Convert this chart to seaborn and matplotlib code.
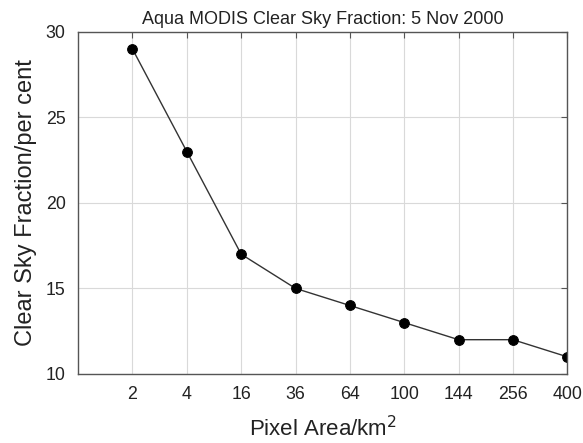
import numpy as np
import matplotlib
matplotlib.use("Agg")
import matplotlib.pyplot as plt
import seaborn as sns

# pixel areas (km^2), plotted as equally spaced categories
pixel_area = ["2", "4", "16", "36", "64", "100", "144", "256", "400"]
clear_sky = [29, 23, 17, 15, 14, 13, 12, 12, 11]

sns.set_style("white")
plt.rcParams["font.family"] = ["Liberation Sans", "DejaVu Sans"]

fig = plt.figure(figsize=(5.83, 4.43), dpi=100)
ax = fig.add_axes([0.134, 0.156, 0.839, 0.772])

pos = np.arange(len(pixel_area))
sns.lineplot(x=pos, y=clear_sky, ax=ax, color="#333333", lw=1.0,
             marker="o", markersize=7, markerfacecolor="black",
             markeredgecolor="black")

ax.set_xlim(-1, len(pixel_area) - 1)
ax.set_ylim(10, 30)
ax.set_xticks(pos)
ax.set_xticklabels(pixel_area)
ax.set_yticks([10, 15, 20, 25, 30])

ax.grid(True, color="#d9d9d9", lw=0.8)
ax.set_axisbelow(True)
for s in ax.spines.values():
    s.set_color("#555555")
    s.set_linewidth(1.0)
ax.tick_params(direction="in", length=4, top=True, right=True,
               labelsize=12.8, color="#555555", labelcolor="#222222", pad=9)

ax.set_title("Aqua MODIS Clear Sky Fraction: 5 Nov 2000", fontsize=13, pad=6,
             color="#222222")
ax.set_xlabel("Pixel Area/km$^2$", fontsize=16, labelpad=9, color="#222222")
ax.set_ylabel("Clear Sky Fraction/per cent", fontsize=17, labelpad=6,
              color="#222222")

fig.savefig("out.png", dpi=100)
